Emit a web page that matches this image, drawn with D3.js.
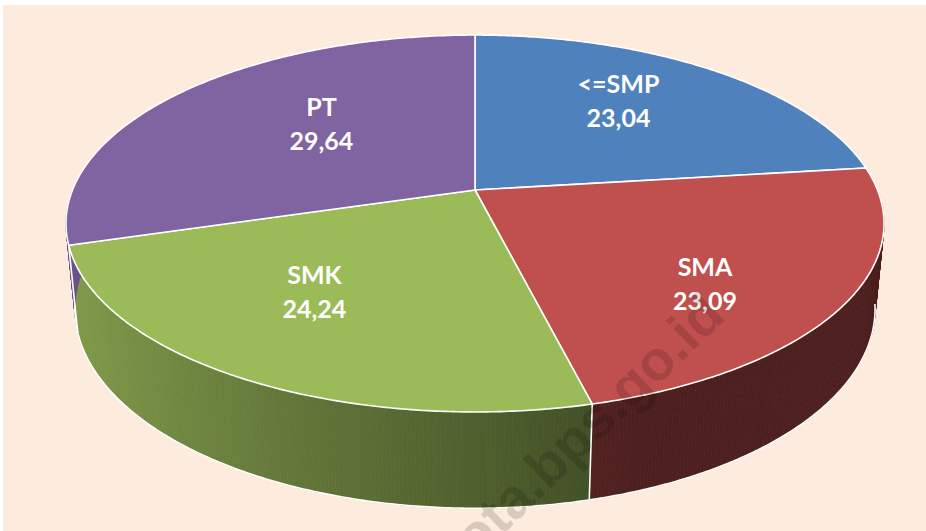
<!DOCTYPE html>
<html>
<head>
<meta charset="utf-8">
<script src="https://cdn.jsdelivr.net/npm/d3@7"></script>
<style>
  body { margin: 0; background: #ffffff; }
  svg { display: block; }
</style>
</head>
<body>
<div id="chart"></div>
<script>
// data
const categories = ["<=SMP", "SMA", "SMK", "PT"];
const values = [23.04, 23.09, 24.24, 29.64];
const valueLabels = ["23,04", "23,09", "24,24", "29,64"];
const colors = ["#4F81BD", "#C0504D", "#9BBB59", "#8064A2"];

const width = 926, height = 531;

const svg = d3.select("#chart").append("svg")
    .attr("width", width)
    .attr("height", height);

// cream panel
svg.append("rect")
    .attr("x", 3).attr("y", 5)
    .attr("width", width - 3).attr("height", height - 5)
    .attr("fill", "#FDEBDD");

// 3d camera (fitted to the picture)
const cam = {cx: 475, cy: 190, sinA: 0.4534, D: 5.016, f: 2019, t: 0.24};
cam.cosA = Math.sqrt(1 - cam.sinA * cam.sinA);

function project(X, Y, Z) {
    let depth = cam.D - Y * cam.sinA + Z * cam.cosA;
    let up = Y * cam.cosA + Z * cam.sinA;
    return [cam.cx + cam.f * X / depth, cam.cy - cam.f * up / depth];
}
const topPt = a => project(Math.sin(a), 0, Math.cos(a));
const botPt = a => project(Math.sin(a), -cam.t, Math.cos(a));

const pie = d3.pie().sort(null).value(d => d);
const arcs = pie(values);

// brightness of the side wall, light from the left
const shade = d3.scaleLinear().domain([-1, 1]).range([0.18, 0.84]).clamp(true);
function sideColor(base, a) {
    let b = Math.max(0.4, shade(-Math.sin(a)));
    let c = d3.rgb(base);
    return d3.rgb(c.r * b, c.g * b, c.b * b).toString();
}

const step = Math.PI / 360;
const lo = Math.PI / 2, hi = Math.PI * 1.5;

// side walls
const sideG = svg.append("g").attr("class", "sides");
arcs.forEach((d, i) => {
    let a0 = Math.max(d.startAngle, lo), a1 = Math.min(d.endAngle, hi);
    for (let a = a0; a < a1; a += step) {
        let b = Math.min(a + step, a1);
        let col = sideColor(colors[i], (a + b) / 2);
        sideG.append("path")
            .attr("d", d3.line()([topPt(a), topPt(b), botPt(b), botPt(a)]) + "Z")
            .attr("fill", col)
            .attr("stroke", col)
            .attr("stroke-width", 0.8);
    }
});

// bottom rim outline
let rim = d3.range(lo + 0.15, hi - 0.15, step).map(botPt);
svg.append("path")
    .attr("d", d3.line()(rim))
    .attr("fill", "none")
    .attr("stroke", "#ffffff")
    .attr("stroke-width", 1.6);

// vertical edges at slice boundaries on the front
arcs.forEach(d => {
    let a = d.endAngle;
    if (a > lo && a < hi) {
        svg.append("path")
            .attr("d", d3.line()([topPt(a), botPt(a)]))
            .attr("stroke", "#ffffff")
            .attr("stroke-width", 1.6);
    }
});

// top faces
const faces = arcs.map(d => {
    let pts = [project(0, 0, 0)];
    for (let a = d.startAngle; a < d.endAngle; a += step) pts.push(topPt(a));
    pts.push(topPt(d.endAngle));
    return pts;
});

svg.append("g").selectAll("path")
    .data(faces)
    .join("path")
    .attr("d", p => d3.line()(p) + "Z")
    .attr("fill", (p, i) => colors[i])
    .attr("stroke", "#ffffff")
    .attr("stroke-width", 1.6)
    .attr("stroke-linejoin", "round");

// labels: face centroid, nudged the way the original placed them
const labelShift = [[-11, -22], [17, 11], [-33, -18], [32, -21]];
const lab = svg.append("g")
    .attr("font-family", "Lato, 'Open Sans', sans-serif")
    .attr("font-weight", "bold")
    .attr("font-size", 25)
    .attr("fill", "#ffffff")
    .attr("text-anchor", "middle");

faces.forEach((p, i) => {
    let c = d3.polygonCentroid(p);
    let x = c[0] + labelShift[i][0], y = c[1] + labelShift[i][1];
    lab.append("text").attr("x", x).attr("y", y - 4).text(categories[i]);
    lab.append("text").attr("x", x).attr("y", y + 30).text(valueLabels[i]);
});

// watermark
svg.append("text")
    .attr("transform", "translate(727,318) rotate(-44)")
    .attr("text-anchor", "end")
    .attr("font-family", "Arial, 'Liberation Sans', sans-serif")
    .attr("font-weight", "bold")
    .attr("font-size", 56)
    .attr("fill", "#000000")
    .attr("fill-opacity", 0.14)
    .text("kota.bps.go.id");
</script>
</body>
</html>
